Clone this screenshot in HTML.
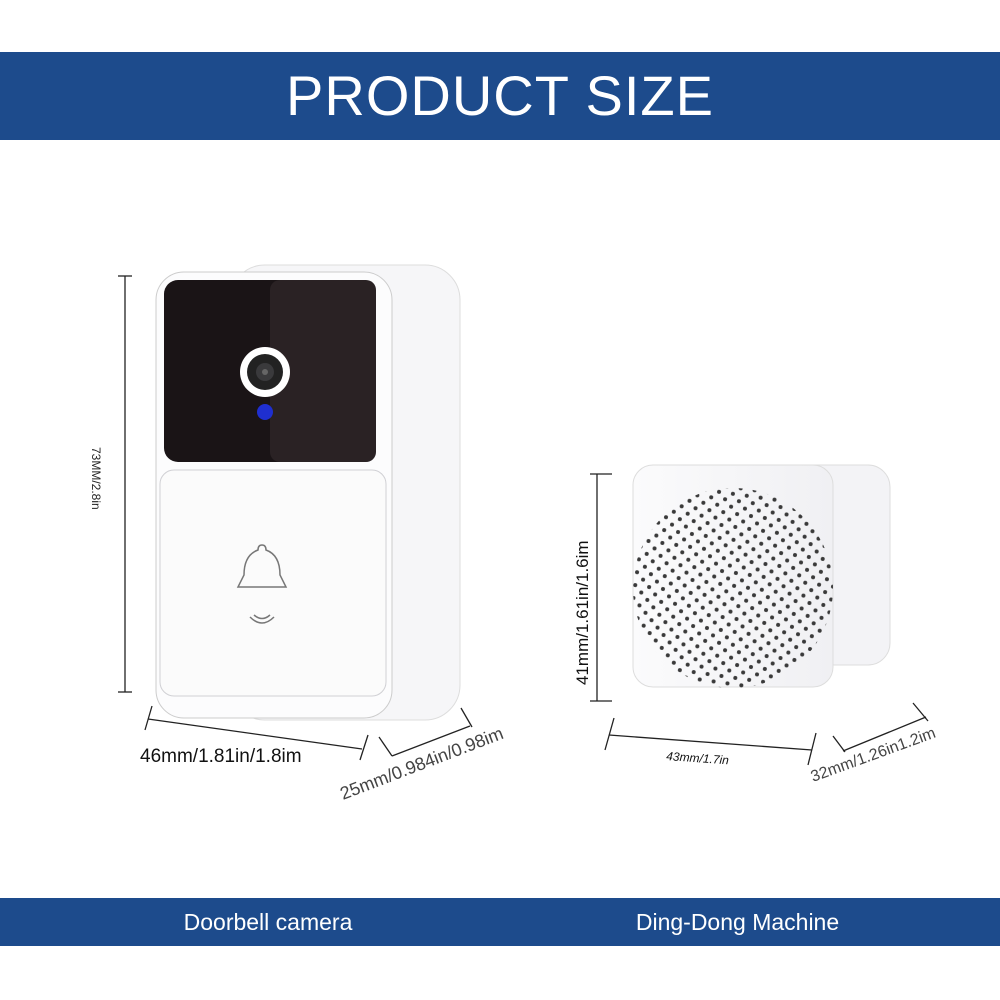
<!DOCTYPE html>
<html><head><meta charset="utf-8"><style>
body{margin:0;width:1000px;height:1000px;background:#fff;position:relative;overflow:hidden;font-family:"Liberation Sans",sans-serif}
.band{position:absolute;left:0;width:1000px;background:#1d4b8c;color:#fff;text-align:center}
</style></head><body>
<div class="band" style="top:52px;height:88px;font-size:56px;line-height:88px;letter-spacing:1px">PRODUCT SIZE</div>
<div class="band" style="top:898px;height:48px"></div>
<div style="position:absolute;top:898px;left:0;width:500px;height:48px;line-height:48px;color:#fff;font-size:23px;text-align:center;padding-left:36px;box-sizing:border-box">Doorbell camera</div>
<div style="position:absolute;top:898px;left:500px;width:450px;height:48px;line-height:48px;color:#fff;font-size:23px;text-align:center;padding-left:25px;box-sizing:border-box">Ding-Dong Machine</div>
<svg width="1000" height="1000" style="position:absolute;left:0;top:0">
<defs>
<pattern id="dots" width="14" height="13" patternUnits="userSpaceOnUse" patternTransform="rotate(8)">
<circle cx="3.5" cy="3.5" r="2" fill="#3a3a3a"/><circle cx="10.5" cy="10" r="2" fill="#3a3a3a"/></pattern>
<clipPath id="cc"><circle cx="733" cy="588" r="100"/></clipPath>
<linearGradient id="sg" x1="0" x2="1"><stop offset="0" stop-color="#fbfbfc"/><stop offset="1" stop-color="#f0f0f3"/></linearGradient>
</defs>
<g stroke="#222" stroke-width="1.3" fill="none">
<line x1="118" y1="276" x2="132" y2="276"/><line x1="125" y1="276" x2="125" y2="692"/><line x1="118" y1="692" x2="132" y2="692"/>
<line x1="152" y1="706" x2="145" y2="730"/><line x1="148" y1="719" x2="362" y2="749"/><line x1="368" y1="735" x2="360" y2="760"/>
<line x1="379" y1="737" x2="392" y2="756"/><line x1="392" y1="756" x2="470" y2="726"/><line x1="461" y1="708" x2="472" y2="727"/>
<line x1="590" y1="474" x2="612" y2="474"/><line x1="597" y1="474" x2="597" y2="701"/><line x1="590" y1="701" x2="612" y2="701"/>
<line x1="614" y1="718" x2="605" y2="750"/><line x1="609" y1="735" x2="812" y2="750"/><line x1="816" y1="733" x2="808" y2="765"/>
<line x1="833" y1="736" x2="845" y2="752"/><line x1="843" y1="751" x2="926" y2="717"/><line x1="913" y1="703" x2="928" y2="721"/>
</g>
<!-- doorbell -->
<rect x="230" y="265" width="230" height="455" rx="35" fill="#f6f6f8" stroke="#ddd"/>
<rect x="156" y="272" width="236" height="446" rx="28" fill="#fcfcfd" stroke="#ccc"/>
<rect x="164" y="280" width="212" height="182" rx="14" fill="#1a1416"/>
<rect x="270" y="280" width="106" height="182" rx="10" fill="#2a2224"/>
<circle cx="265" cy="372" r="25" fill="#fff"/><circle cx="265" cy="372" r="18" fill="#222"/><circle cx="265" cy="372" r="9" fill="#3a3a3c"/><circle cx="265" cy="372" r="3" fill="#666"/>
<circle cx="265" cy="412" r="8" fill="#1f2fd0"/>
<rect x="160" y="470" width="226" height="226" rx="14" fill="#fbfbfb" stroke="#d0d0d4"/>
<path d="M262 545 q-4 0 -4 5 q-14 5 -14 25 l-6 12 h48 l-6 -12 q0 -20 -14 -25 q0 -5 -4 -5z" fill="none" stroke="#777" stroke-width="1.5"/>
<path d="M250 617 q12 12 24 0 M254 615 q8 7 16 0" fill="none" stroke="#777" stroke-width="1.5"/>
<!-- speaker -->
<rect x="700" y="465" width="190" height="200" rx="22" fill="#f3f3f6" stroke="#ddd"/>
<rect x="633" y="465" width="200" height="222" rx="20" fill="url(#sg)" stroke="#ddd"/>
<rect x="630" y="480" width="210" height="215" fill="url(#dots)" clip-path="url(#cc)"/>
<g font-family="Liberation Sans,sans-serif" fill="#222">
<text transform="translate(92,447) rotate(90)" font-size="12">73MM/2.8in</text>
<text x="140" y="762" font-size="19" fill="#111">46mm/1.81in/1.8im</text>
<text transform="translate(343,800) rotate(-21)" font-size="18" fill="#444">25mm/0.984in/0.98im</text>
<text transform="translate(588,685) rotate(-90)" font-size="17" fill="#111">41mm/1.61in/1.6im</text>
<text transform="translate(666,760) rotate(4)" font-size="12" font-style="italic" fill="#111">43mm/1.7in</text>
<text transform="translate(813,782) rotate(-20)" font-size="16" fill="#444">32mm/1.26in1.2im</text>
</g>
</svg>
</body></html>
